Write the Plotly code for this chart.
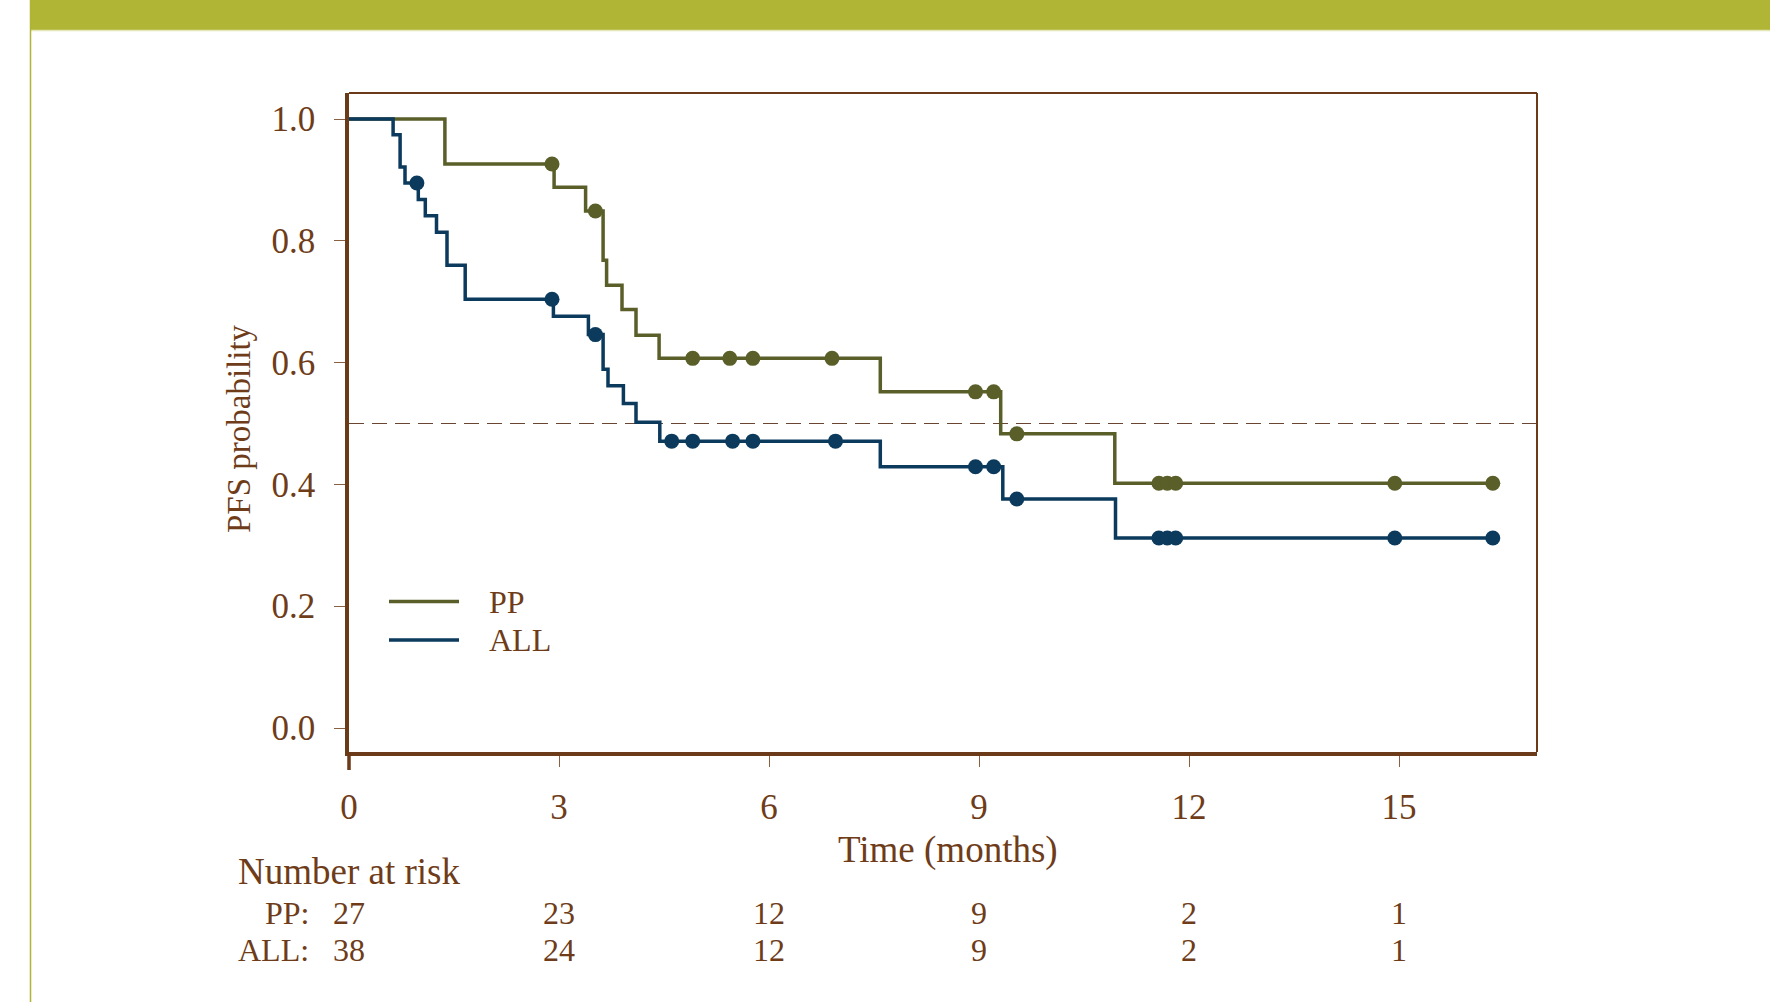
import plotly.graph_objects as go

# ---------------- data ----------------
pp_time = [0, 1.37, 2.93, 3.38, 3.63, 3.68, 3.90, 4.10, 4.43, 7.59, 9.31, 10.94, 16.34]
pp_surv = [1.0, 0.926, 0.888, 0.849, 0.768, 0.727, 0.687, 0.645, 0.607, 0.552, 0.483, 0.402, 0.402]
pp_cens_time = [2.90, 3.52, 4.91, 5.44, 5.77, 6.90, 8.95, 9.21, 9.54, 11.57, 11.69, 11.81, 14.94, 16.34]
pp_cens_surv = [0.926, 0.849, 0.607, 0.607, 0.607, 0.607, 0.552, 0.552, 0.483, 0.402, 0.402, 0.402, 0.402, 0.402]

all_time = [0, 0.63, 0.73, 0.80, 0.99, 1.09, 1.25, 1.40, 1.66, 2.92, 3.42, 3.63, 3.70, 3.92, 4.10, 4.44, 7.59, 9.34, 10.95, 16.34]
all_surv = [1.0, 0.974, 0.921, 0.895, 0.868, 0.841, 0.814, 0.760, 0.704, 0.676, 0.646, 0.589, 0.562, 0.533, 0.502, 0.471, 0.429, 0.376, 0.312, 0.312]
all_cens_time = [0.97, 2.90, 3.52, 4.61, 4.91, 5.48, 5.77, 6.95, 8.95, 9.21, 9.54, 11.57, 11.69, 11.81, 14.94, 16.34]
all_cens_surv = [0.895, 0.704, 0.646, 0.471, 0.471, 0.471, 0.471, 0.471, 0.429, 0.429, 0.376, 0.312, 0.312, 0.312, 0.312, 0.312]

x_ticks = [0, 3, 6, 9, 12, 15]
y_ticks = [0.0, 0.2, 0.4, 0.6, 0.8, 1.0]
y_tick_labels = ["0.0", "0.2", "0.4", "0.6", "0.8", "1.0"]

risk_times = [0, 3, 6, 9, 12, 15]
pp_at_risk = [27, 23, 12, 9, 2, 1]
all_at_risk = [38, 24, 12, 9, 2, 1]

series_names = ["PP", "ALL"]
median_line = 0.5

# ---------------- style ----------------
W, H = 1770, 1002
L, R, T, B = 349, 233, 93, 250
PW, PH = W - L - R, H - T - B

OLIVE = "#5a5e28"
NAVY = "#0b3a5c"
BROWN = "#6b3a18"
TEXT = "#6e3c19"
BAND = "#b0b535"
FONT = "Liberation Serif, Times New Roman, serif"


def px2x(px):
    return (px - L) / PW


def px2y(py):
    return (H - B - py) / PH


fig = go.Figure()

fig.add_trace(go.Scatter(x=pp_time, y=pp_surv, mode="lines", line=dict(shape="hv", color=OLIVE, width=3.5),
                         name=series_names[0], showlegend=False, hoverinfo="skip"))
fig.add_trace(go.Scatter(x=pp_cens_time, y=pp_cens_surv, mode="markers",
                         marker=dict(color=OLIVE, size=15), showlegend=False, hoverinfo="skip"))
fig.add_trace(go.Scatter(x=all_time, y=all_surv, mode="lines", line=dict(shape="hv", color=NAVY, width=3.5),
                         name=series_names[1], showlegend=False, hoverinfo="skip"))
fig.add_trace(go.Scatter(x=all_cens_time, y=all_cens_surv, mode="markers",
                         marker=dict(color=NAVY, size=15), showlegend=False, hoverinfo="skip"))

shapes = []
# header band
shapes.append(dict(type="rect", xref="paper", yref="paper", x0=px2x(30), x1=px2x(W + 5), y0=px2y(30), y1=px2y(-5),
                   fillcolor=BAND, line=dict(width=0), layer="below"))
shapes.append(dict(type="line", xref="paper", yref="paper", x0=px2x(31), x1=px2x(W + 5), y0=px2y(30.5), y1=px2y(30.5),
                   line=dict(color="#e4e6b8", width=1.5)))
# left page rule
shapes.append(dict(type="line", xref="paper", yref="paper", x0=px2x(30.5), x1=px2x(30.5), y0=px2y(0), y1=px2y(H + 5),
                   line=dict(color=BAND, width=1.5)))
# median reference line
shapes.append(dict(type="line", xref="paper", yref="y", x0=0, x1=1, y0=median_line, y1=median_line,
                   line=dict(color="#6a4632", width=1.2, dash="15px,8px"), layer="below"))
# top and right frame
shapes.append(dict(type="line", xref="paper", yref="paper", x0=0, x1=1, y0=1, y1=1, line=dict(color=BROWN, width=2)))
shapes.append(dict(type="line", xref="paper", yref="paper", x0=1, x1=1, y0=0, y1=1, line=dict(color=BROWN, width=2)))
# y-axis extension below the x axis
shapes.append(dict(type="line", xref="paper", yref="paper", x0=0, x1=0, y0=0, y1=px2y(770),
                   line=dict(color=BROWN, width=3.5)))
# legend samples
for name, col, yy in [(series_names[0], OLIVE, 601.5), (series_names[1], NAVY, 640)]:
    shapes.append(dict(type="line", xref="paper", yref="paper", x0=px2x(389), x1=px2x(459), y0=px2y(yy), y1=px2y(yy),
                       line=dict(color=col, width=3.5)))

ann = []
for name, yy in [(series_names[0], 601.5), (series_names[1], 640)]:
    ann.append(dict(xref="paper", yref="paper", x=px2x(487), y=px2y(yy), text=name, showarrow=False,
                    xanchor="left", yanchor="middle", font=dict(family=FONT, size=32, color=TEXT)))

ann.append(dict(xref="paper", yref="paper", x=px2x(948), y=px2y(850), text="Time (months)", showarrow=False,
                xanchor="center", yanchor="middle", font=dict(family=FONT, size=37, color=TEXT)))
ann.append(dict(xref="paper", yref="paper", x=px2x(239), y=px2y(429), text="PFS probability", showarrow=False,
                textangle=-90, xanchor="center", yanchor="middle", font=dict(family=FONT, size=33, color=TEXT)))
ann.append(dict(xref="paper", yref="paper", x=px2x(236), y=px2y(871), text="Number at risk", showarrow=False,
                xanchor="left", yanchor="middle", font=dict(family=FONT, size=37, color=TEXT)))

for lab, vals, yy in [("PP:", pp_at_risk, 913), ("ALL:", all_at_risk, 950)]:
    ann.append(dict(xref="paper", yref="paper", x=px2x(311), y=px2y(yy), text=lab, showarrow=False,
                    xanchor="right", yanchor="middle", font=dict(family=FONT, size=32, color=TEXT)))
    for t, v in zip(risk_times, vals):
        ann.append(dict(xref="x", yref="paper", x=t, y=px2y(yy), text=str(v), showarrow=False,
                        xanchor="center", yanchor="middle", font=dict(family=FONT, size=32, color=TEXT)))

fig.update_layout(
    width=W, height=H,
    margin=dict(l=L, r=R, t=T, b=B, pad=0),
    paper_bgcolor="white", plot_bgcolor="white",
    showlegend=False,
    shapes=shapes,
    annotations=ann,
    xaxis=dict(range=[0, PW / 70.0], tickvals=x_ticks, ticktext=[str(v) for v in x_ticks],
               showgrid=False, zeroline=False, showline=True, linecolor=BROWN, linewidth=3.5,
               ticks="outside", ticklen=11, tickwidth=1, tickcolor="#8a6040",
               tickfont=dict(family=FONT, size=35, color=TEXT), ticklabelstandoff=10),
    yaxis=dict(range=[-0.0394, 1.0427], tickvals=y_ticks, ticktext=y_tick_labels,
               showgrid=False, zeroline=False, showline=True, linecolor=BROWN, linewidth=3.5,
               ticks="outside", ticklen=11, tickwidth=1, tickcolor="#8a6040",
               tickfont=dict(family=FONT, size=35, color=TEXT), ticklabelstandoff=12),
)

fig.write_html("out.html", config={"displayModeBar": False},
               post_script="document.body.style.margin='0';document.body.style.overflow='hidden';")
